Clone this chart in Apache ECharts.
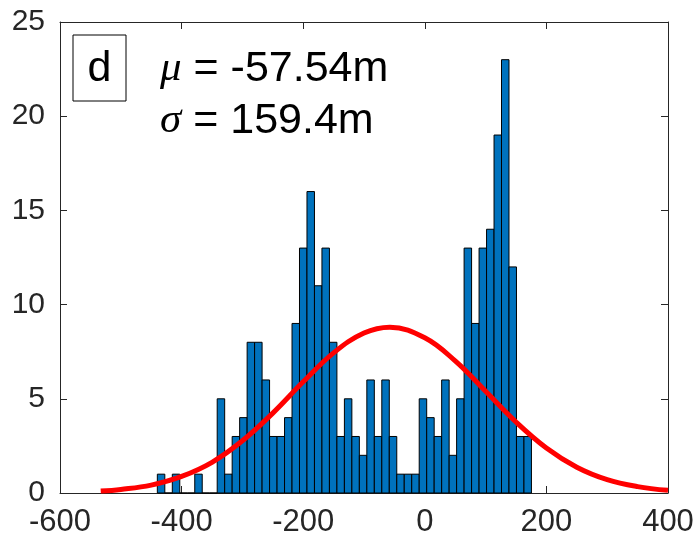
<!DOCTYPE html>
<html>
<head>
<meta charset="utf-8">
<script src="https://cdn.jsdelivr.net/npm/echarts@6/dist/echarts.min.js"></script>
<style>
  html, body { margin: 0; padding: 0; background: #fff; }
  #chart { width: 695px; height: 542px; }
</style>
</head>
<body>
<div id="chart"></div>
<script>
// histogram: 50 equal bins starting at binStart
var binStart = -439.9;
var binWidth = 12.306;
var counts = [1, 0, 1, 0, 0, 1, 0, 0, 5, 1,
              3, 4, 8, 8, 6, 3, 3, 4, 9, 13,
              16, 11, 13, 8, 3, 5, 3, 2, 6, 3,
              6, 3, 1, 1, 1, 5, 4, 3, 6, 2,
              5, 13, 9, 13, 14, 19, 23, 12, 3, 3];

// fitted normal curve
var curveX = [-533, -500, -450, -400, -350, -300, -250, -200, -150, -100, -57.5, 0, 50, 100, 150, 200, 250, 300, 350, 400];
var curveY = [0.10, 0.19, 0.42, 0.88, 1.63, 2.77, 4.24, 5.90, 7.44, 8.49, 8.80, 8.24, 7.01, 5.40, 3.77, 2.39, 1.37, 0.71, 0.34, 0.14];

var xTicks = [-600, 400, 200];   // min, max, step
var yTicks = [0, 25, 5];

var muText = '-57.54m';
var sigmaText = '159.4m';
var panelTag = 'd';

var font = 'Liberation Sans, Helvetica, Arial, sans-serif';
var axisColor = '#262626';

var histData = counts.map(function (c, i) {
  return [binStart + i * binWidth, binStart + (i + 1) * binWidth, c];
});
var curveData = curveX.map(function (x, i) { return [x, curveY[i]]; });

var chart = echarts.init(document.getElementById('chart'));

function boxAxis(extra) {
  return Object.assign({
    type: 'value',
    axisLine: { show: true, onZero: false, lineStyle: { color: axisColor, width: 1 } },
    axisTick: { show: true, inside: true, length: 7, lineStyle: { color: axisColor } },
    splitLine: { show: false },
    axisLabel: { show: false }
  }, extra);
}

var option = {
  animation: false,
  backgroundColor: '#fff',
  grid: { left: 60, right: 27, top: 22, bottom: 49, outerBoundsMode: 'none' },
  xAxis: [
    boxAxis({
      min: xTicks[0], max: xTicks[1], interval: xTicks[2], position: 'bottom',
      axisLabel: { show: true, color: axisColor, fontSize: 31, fontFamily: font, margin: 14 }
    }),
    boxAxis({ min: xTicks[0], max: xTicks[1], interval: xTicks[2], position: 'top' })
  ],
  yAxis: [
    boxAxis({
      min: yTicks[0], max: yTicks[1], interval: yTicks[2], position: 'left',
      axisLabel: { show: true, color: axisColor, fontSize: 30, fontFamily: font, margin: 15 }
    }),
    boxAxis({ min: yTicks[0], max: yTicks[1], interval: yTicks[2], position: 'right' })
  ],
  series: [
    {
      type: 'custom',
      xAxisIndex: 0,
      yAxisIndex: 0,
      data: histData,
      renderItem: function (params, api) {
        var p0 = api.coord([api.value(0), 0]);
        var p1 = api.coord([api.value(1), api.value(2)]);
        return {
          type: 'rect',
          shape: { x: p0[0], y: p1[1], width: p1[0] - p0[0], height: p0[1] - p1[1] },
          style: { fill: '#0072BD', stroke: '#000', lineWidth: 1 }
        };
      },
      z: 2
    },
    {
      type: 'line',
      data: curveData,
      smooth: 0.4,
      showSymbol: false,
      lineStyle: { color: '#FF0000', width: 5 },
      z: 3
    }
  ],
  graphic: [
    {
      type: 'rect',
      shape: { x: 73, y: 35, width: 53, height: 66 },
      style: { fill: '#fff', stroke: '#000', lineWidth: 1 },
      z: 10
    },
    {
      type: 'text',
      x: 99.5, y: 69,
      style: { text: panelTag, font: '43px ' + font, fill: '#000', textAlign: 'center', textVerticalAlign: 'middle' },
      z: 11
    },
    {
      type: 'text',
      x: 160, y: 69,
      style: {
        text: '{g|μ} = ' + muText,
        font: '43px ' + font, fill: '#000', textVerticalAlign: 'middle',
        rich: { g: { fontFamily: 'Liberation Serif, serif', fontStyle: 'italic', fontSize: 43 } }
      },
      z: 11
    },
    {
      type: 'text',
      x: 160, y: 121,
      style: {
        text: '{g|σ} = ' + sigmaText,
        font: '43px ' + font, fill: '#000', textVerticalAlign: 'middle',
        rich: { g: { fontFamily: 'Liberation Serif, serif', fontStyle: 'italic', fontSize: 43 } }
      },
      z: 11
    }
  ]
};

chart.setOption(option);
</script>
</body>
</html>
